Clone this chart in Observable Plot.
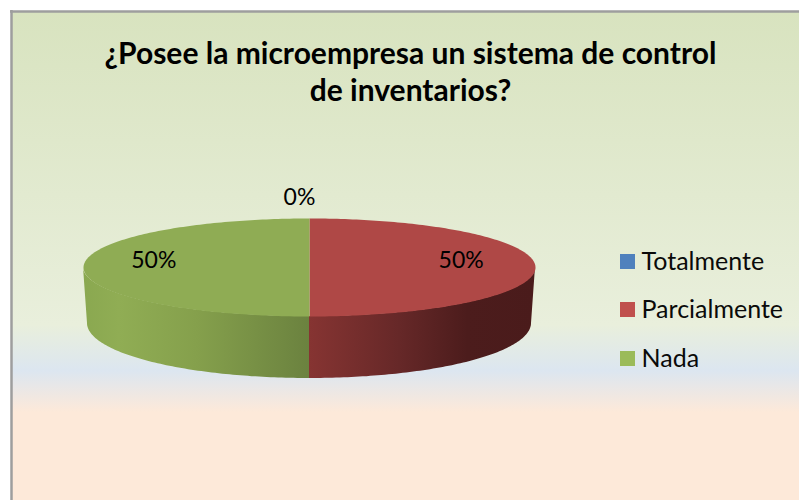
<!DOCTYPE html>
<html lang="es">
<head>
<meta charset="utf-8">
<script src="https://cdn.jsdelivr.net/npm/d3@7"></script>
<script src="https://cdn.jsdelivr.net/npm/@observablehq/plot@0.6"></script>
<style>
html,body{margin:0;padding:0;background:#fff;overflow:hidden}
svg{display:block}
</style>
</head>
<body>
<div id="chart"></div>
<script>
const titleLines = ["¿Posee la microempresa un sistema de control", "de inventarios?"];
const categories = ["Totalmente", "Parcialmente", "Nada"];
const values = [0, 50, 50];
const percentLabels = ["0%", "50%", "50%"];
const legendColors = ["#4f81bd", "#c0504d", "#9bbb59"];
const topColors = ["#4a76ac", "#af4846", "#8fac54"];

// layout
const W = 799, H = 500;
const top3d = {cx: 309, cy: 267, rx: 226, ry: 49};
const bot3d = {cx: 309, cy: 323, rx: 222, ry: 55};
const font = "Lato, Carlito, Calibri, sans-serif";

const pt = (e, a) => [e.cx + e.rx * Math.sin(a), e.cy - e.ry * Math.cos(a)];
const arcs = d3.pie().sort(null).value(d => d)(values);
const step = Math.PI / 180;

function angles(a0, a1) {
  const out = [];
  for (let a = a0; a < a1; a += step) out.push(a);
  out.push(a1);
  return out;
}
// top faces
const faces = arcs.filter(s => s.value > 0).map(s => ({
  fill: topColors[s.index],
  pts: [[top3d.cx, top3d.cy], ...angles(s.startAngle, s.endAngle).map(a => pt(top3d, a))]
}));
// side walls: the part of each slice's rim that faces the viewer
const sides = arcs.filter(s => s.value > 0).map(s => {
  const a0 = Math.max(s.startAngle, Math.PI / 2), a1 = Math.min(s.endAngle, 3 * Math.PI / 2);
  return {
    fill: `url(#side${s.index})`,
    pts: angles(a0, a1).map(a => ({t: pt(top3d, a), b: pt(bot3d, a)}))
  };
});
const labels = arcs.map(s => {
  const mid = (s.startAngle + s.endAngle) / 2;
  const k = s.value > 0 ? 0.68 : 1.0;
  const p = [top3d.cx + k * top3d.rx * Math.sin(mid), top3d.cy - (s.value > 0 ? 0 : 63)];
  return {text: percentLabels[s.index], x: p[0] - (s.value > 0 ? 2 : 10), y: p[1]};
});

const NS = "http://www.w3.org/2000/svg";
function gradient(id, attrs, stops) {
  const g = document.createElementNS(NS, "linearGradient");
  g.setAttribute("id", id);
  Object.entries(attrs).forEach(([k, v]) => g.setAttribute(k, v));
  stops.forEach(([o, c]) => {
    const s = document.createElementNS(NS, "stop");
    s.setAttribute("offset", o);
    s.setAttribute("stop-color", c);
    g.appendChild(s);
  });
  return g;
}
function defsMark() {
  const d = document.createElementNS(NS, "defs");
  d.appendChild(gradient("bg", {x1: 0, y1: 0, x2: 0, y2: 1}, [
    [0, "#d8e3bf"], [0.64, "#e9efdc"], [0.735, "#dce6f0"], [0.82, "#fde9d9"], [1, "#fde9d9"]
  ]));
  d.appendChild(gradient("side1", {x1: 0, y1: 0, x2: 1, y2: 0}, [
    [0, "#863432"], [0.4, "#662828"], [0.7, "#4c1c1c"], [1, "#4a1b1b"]
  ]));
  d.appendChild(gradient("side2", {x1: 0, y1: 0, x2: 1, y2: 0}, [
    [0, "#8aa850"], [0.16, "#90ad54"], [0.5, "#85a04c"], [1, "#6b823f"]
  ]));
  return d;
}

const legendY = [261.5, 309.5, 358.5];
const legend = categories.map((c, i) => ({c, y: legendY[i], color: legendColors[i]}));

const plot = Plot.plot({
  width: W, height: H,
  margin: 0,
  x: {domain: [0, W], range: [0, W], axis: null},
  y: {domain: [0, H], range: [0, H], axis: null},
  style: {fontFamily: font, background: "#fff", color: "#000"},
  marks: [
    defsMark,
    Plot.rect([0], {x1: () => 12, x2: () => W, y1: () => 12, y2: () => H, fill: "url(#bg)"}),
    Plot.ruleX([11], {y1: 10, y2: H, stroke: "#9e9e9e", strokeWidth: 2.5}),
    Plot.ruleY([11], {x1: 10, x2: W, stroke: "#9e9e9e", strokeWidth: 2.5}),
    ...sides.map(s => Plot.area(s.pts, {
      x1: d => d.t[0], y1: d => d.t[1], x2: d => d.b[0], y2: d => d.b[1], fill: s.fill
    })),
    ...faces.map(f => Plot.line(f.pts, {
      x: d => d[0], y: d => d[1], fill: f.fill, stroke: "none", curve: "linear"
    })),
    Plot.text(titleLines, {
      x: () => 410, y: (d, i) => 63 + i * 37, text: d => d,
      fontSize: 30, fontWeight: 700, fill: "#000", textAnchor: "middle", lineAnchor: "bottom"
    }),
    Plot.text(labels, {
      x: "x", y: "y", text: "text", fontSize: 23, fill: "#000",
      textAnchor: "middle", lineAnchor: "bottom"
    }),
    Plot.rect(legend, {
      x1: () => 620, x2: () => 635, y1: d => d.y - 7.5, y2: d => d.y + 7.5, fill: "color"
    }),
    Plot.text(legend, {
      x: () => 641, y: d => d.y, text: "c", fontSize: 25, fill: "#0a0a0a",
      textAnchor: "start", lineAnchor: "middle"
    })
  ]
});
document.getElementById("chart").appendChild(plot);
</script>
</body>
</html>
